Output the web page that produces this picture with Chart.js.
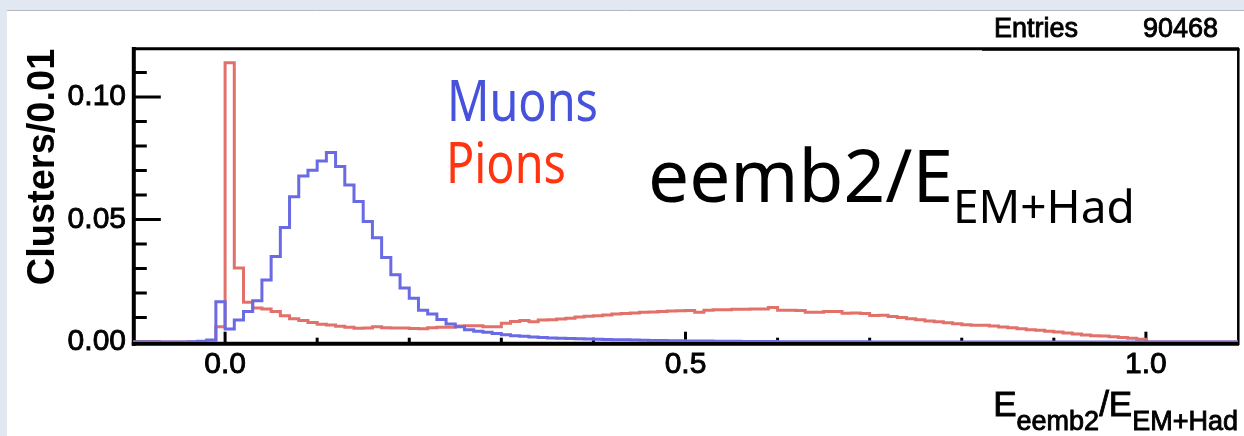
<!DOCTYPE html>
<html>
<head>
<meta charset="utf-8">
<script src="https://cdn.jsdelivr.net/npm/chart.js@4.4.1/dist/chart.umd.min.js"></script>
<style>
  html, body { margin: 0; padding: 0; background: #e1e8f1; overflow: hidden; }
  canvas { display: block; }
</style>
</head>
<body>
<canvas id="histo" width="1244" height="436"></canvas>
<script>
// 120 bins of 0.01 between -0.10 and 1.10
const xMin = -0.1;
const xMax = 1.1;
const binWidth = 0.01;
const entries = 90468;

const muons = [
  0, 0, 0, 0, 0, 0, 0.0001, 0.0003, 0.0008, 0.0164,                              // -0.10 .. -0.01
  0.0053, 0.0090, 0.0125, 0.0168, 0.0253, 0.0349, 0.0467, 0.0593, 0.0678, 0.0701, //  0.00 ..  0.09
  0.0739, 0.0773, 0.0716, 0.0641, 0.0573, 0.0492, 0.0426, 0.0345, 0.0274, 0.0220, //  0.10 ..  0.19
  0.0179, 0.0130, 0.0114, 0.0092, 0.0073, 0.0062, 0.0050, 0.0044, 0.0040, 0.0035, //  0.20 ..  0.29
  0.0030, 0.0026, 0.0023, 0.0020, 0.0018, 0.0016, 0.0015, 0.0014, 0.0013, 0.0012,
  0.0011, 0.0010, 0.0009, 0.0009, 0.0008, 0.0007, 0.0006, 0.0006, 0.0005, 0.0005,
  0.0004, 0.0004, 0.0004, 0.0003, 0.0003, 0.0003, 0.0002, 0.0002, 0.0002, 0.0002,
  0.0001, 0.0001, 0.0001, 0.0001, 0.0001, 0.0001, 0.0001, 0.0001, 0.0001, 0.0001,
  0, 0, 0, 0, 0, 0, 0, 0, 0, 0,
  0, 0, 0, 0, 0, 0, 0, 0, 0, 0,
  0, 0, 0, 0, 0, 0, 0, 0, 0, 0,
  0, 0, 0, 0, 0, 0, 0, 0, 0, 0                                                   //  1.00 ..  1.09
];

const pions = [
  0, 0, 0, 0, 0, 0, 0, 0, 0, 0.0062,
  0.1140, 0.0302, 0.0162, 0.0139, 0.0135, 0.0125, 0.0107, 0.0095, 0.0088, 0.0080,
  0.0072, 0.0069, 0.0064, 0.0060, 0.0056, 0.0057, 0.0062, 0.0058, 0.0057, 0.0057,
  0.0055, 0.0054, 0.0058, 0.0060, 0.0060, 0.0065, 0.0066, 0.0066, 0.0062, 0.0062,
  0.0077, 0.0084, 0.0088, 0.0083, 0.0090, 0.0091, 0.0094, 0.0097, 0.0102, 0.0105,
  0.0107, 0.0110, 0.0114, 0.0116, 0.0118, 0.0121, 0.0122, 0.0125, 0.0127, 0.0128,
  0.0129, 0.0121, 0.0130, 0.0132, 0.0132, 0.0134, 0.0134, 0.0135, 0.0135, 0.0141,
  0.0130, 0.0130, 0.0129, 0.0121, 0.0121, 0.0125, 0.0124, 0.0117, 0.0118, 0.0116,
  0.0108, 0.0109, 0.0104, 0.0100, 0.0095, 0.0091, 0.0086, 0.0083, 0.0079, 0.0075,
  0.0070, 0.0068, 0.0068, 0.0065, 0.0061, 0.0058, 0.0054, 0.0050, 0.0048, 0.0044,
  0.0041, 0.0037, 0.0033, 0.0029, 0.0026, 0.0024, 0.0021, 0.0018, 0.0015, 0.0011,
  0, 0, 0, 0, 0, 0, 0, 0, 0, 0
];

const xTicks = [0, 0.5, 1.0];
const xMinorTicks = [0.1, 0.2, 0.3, 0.4, 0.6, 0.7, 0.8, 0.9];
const yTicks = [0, 0.05, 0.10];
const yMinorTicks = [0.01, 0.02, 0.03, 0.04, 0.06, 0.07, 0.08, 0.09, 0.11];

const HELV = '"Liberation Sans", Arial, Helvetica, sans-serif';

// bin contents -> points on the lower bin edges, last point closes the final bin
function toSteps(values) {
  const pts = values.map((v, i) => ({ x: xMin + i * binWidth, y: v }));
  pts.push({ x: xMin + values.length * binWidth, y: values[values.length - 1] });
  return pts;
}

function strokeLine(ctx, x1, y1, x2, y2) {
  ctx.beginPath();
  ctx.moveTo(x1, y1);
  ctx.lineTo(x2, y2);
  ctx.stroke();
}

// filled text with a thin outline so Helvetica reads a bit heavier
function heavyText(ctx, text, x, y) {
  ctx.fillText(text, x, y);
  ctx.strokeText(text, x, y);
}

// pad background + white canvas
const background = {
  id: 'background',
  beforeDraw(chart) {
    const { ctx, width, height } = chart;
    ctx.save();
    ctx.fillStyle = '#e1e8f1';
    ctx.fillRect(0, 0, width, height);
    ctx.fillStyle = '#ffffff';
    ctx.fillRect(7, 10, width - 7, height - 10);
    ctx.strokeStyle = '#b4b8bf';
    ctx.lineWidth = 1;
    strokeLine(ctx, 7, 10.5, width, 10.5);
    ctx.restore();
  }
};

// frame and inward ticks, ROOT style
const frame = {
  id: 'frame',
  beforeDatasetsDraw(chart) {
    const { ctx, chartArea: a, scales: { x, y } } = chart;
    ctx.save();
    ctx.strokeStyle = '#000';
    ctx.lineCap = 'butt';

    ctx.lineWidth = 3;
    strokeLine(ctx, a.left - 1, a.top + 0.7, a.right + 1, a.top + 0.7);
    ctx.lineWidth = 2.5;
    strokeLine(ctx, a.right + 0.3, a.top, a.right + 0.3, a.bottom + 3);

    const axX = a.left + 0.8;
    const axY = a.bottom + 1.7;
    ctx.lineWidth = 4;
    strokeLine(ctx, axX, a.top - 1, axX, axY + 2);
    strokeLine(ctx, axX - 2, axY, a.right + 1, axY);

    ctx.lineWidth = 3;
    yTicks.forEach(v => { const py = y.getPixelForValue(v); strokeLine(ctx, axX, py, axX + 27, py); });
    yMinorTicks.forEach(v => { const py = y.getPixelForValue(v); strokeLine(ctx, axX, py, axX + 13, py); });
    xTicks.forEach(v => { const px = x.getPixelForValue(v); strokeLine(ctx, px, axY, px, axY - 12); });
    xMinorTicks.forEach(v => { const px = x.getPixelForValue(v); strokeLine(ctx, px, axY, px, axY - 6); });
    ctx.restore();
  }
};

function drawRuns(ctx, x, runs, alignRight, heavy) {
  let total = 0;
  runs.forEach(r => { ctx.font = r.font; r.w = ctx.measureText(r.text).width; total += r.w; });
  let cx = alignRight ? x - total : x;
  runs.forEach(r => {
    ctx.font = r.font;
    if (heavy) heavyText(ctx, r.text, cx, r.base); else ctx.fillText(r.text, cx, r.base);
    cx += r.w;
  });
}

function fitText(ctx, text, x, y, width) {
  const w = ctx.measureText(text).width;
  ctx.save();
  ctx.translate(x, y);
  ctx.scale(width / w, 1);
  ctx.fillText(text, 0, 0);
  ctx.restore();
}

const annotations = {
  id: 'annotations',
  afterDraw(chart) {
    const { ctx, chartArea: a } = chart;
    ctx.save();
    ctx.textBaseline = 'alphabetic';
    ctx.textAlign = 'left';
    ctx.fillStyle = '#000';
    ctx.strokeStyle = '#000';
    ctx.lineWidth = 0.9;

    // stats box
    ctx.font = '27px ' + HELV;
    heavyText(ctx, 'Entries', 994, 37);
    ctx.textAlign = 'right';
    heavyText(ctx, String(entries), 1218, 37);
    ctx.textAlign = 'left';
    ctx.lineWidth = 2;
    strokeLine(ctx, 982, a.top + 1.8, a.right + 1.5, a.top + 1.8);

    // y axis title
    ctx.save();
    ctx.translate(54, 167);
    ctx.rotate(-Math.PI / 2);
    ctx.textAlign = 'center';
    ctx.font = 'bold 38px ' + HELV;
    ctx.fillText('Clusters/0.01', 0, 0);
    ctx.restore();

    // x axis title
    ctx.lineWidth = 0.9;
    drawRuns(ctx, a.right, [
      { text: 'E', font: '35px ' + HELV, base: 416 },
      { text: 'eemb2', font: '27px ' + HELV, base: 430 },
      { text: '/', font: '35px ' + HELV, base: 416 },
      { text: 'E', font: '35px ' + HELV, base: 416 },
      { text: 'EM+Had', font: '27px ' + HELV, base: 430 }
    ], true, true);

    // variable name
    drawRuns(ctx, 648, [
      { text: 'eemb2/E', font: '73px "Noto Sans", sans-serif', base: 202 },
      { text: 'EM+Had', font: '46px "Noto Sans", sans-serif', base: 223 }
    ], false, false);

    // legend words
    ctx.font = '56px "Noto Sans", sans-serif';
    ctx.fillStyle = '#4752dc';
    fitText(ctx, 'Muons', 447, 121, 151);
    ctx.fillStyle = '#ff3410';
    fitText(ctx, 'Pions', 446, 183, 120);
    ctx.restore();
  }
};

const histLine = {
  pointRadius: 0,
  pointHoverRadius: 0,
  borderWidth: 3,
  stepped: 'before',
  tension: 0,
  fill: false,
  borderJoinStyle: 'miter',
  borderCapStyle: 'butt'
};

const tickFont = { family: HELV, size: 30 };

new Chart(document.getElementById('histo'), {
  type: 'line',
  data: {
    datasets: [
      { ...histLine, label: 'Muons', data: toSteps(muons), borderColor: '#6a6ae4' },
      { ...histLine, label: 'Pions', data: toSteps(pions), borderColor: '#e2716a' }
    ]
  },
  options: {
    responsive: false,
    animation: false,
    devicePixelRatio: 1,
    layout: { padding: { top: 48, right: 6, left: 0, bottom: 0 } },
    plugins: { legend: { display: false }, tooltip: { enabled: false } },
    scales: {
      x: {
        type: 'linear',
        min: xMin,
        max: xMax,
        afterBuildTicks: s => { s.ticks = xTicks.map(v => ({ value: v })); },
        afterFit: s => { s.height = 94; },
        grid: { display: false, drawTicks: false },
        border: { display: false },
        ticks: {
          padding: 5,
          autoSkip: false,
          maxRotation: 0,
          color: '#000',
          textStrokeColor: '#000',
          textStrokeWidth: 0.9,
          font: tickFont,
          callback: v => v.toFixed(1)
        }
      },
      y: {
        min: 0,
        max: 0.12,
        afterBuildTicks: s => { s.ticks = yTicks.map(v => ({ value: v })); },
        afterFit: s => { s.width = 133; },
        grid: { display: false, drawTicks: false },
        border: { display: false },
        ticks: {
          padding: 7,
          color: '#000',
          textStrokeColor: '#000',
          textStrokeWidth: 0.9,
          font: tickFont,
          callback: v => v.toFixed(2)
        }
      }
    }
  },
  plugins: [background, frame, annotations]
});
</script>
</body>
</html>
